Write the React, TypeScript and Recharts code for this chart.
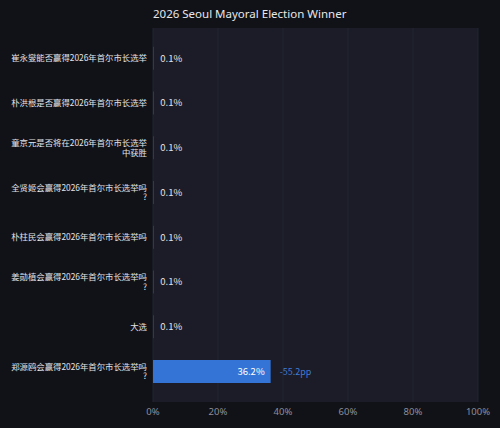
import React from "react";
import { BarChart, Bar, XAxis, YAxis, CartesianGrid, LabelList } from "recharts";

const categories = [
  "崔永燮能否赢得2026年首尔市长选举",
  "朴洪根是否赢得2026年首尔市长选举",
  "童京元是否将在2026年首尔市长选举中获胜",
  "全贤姬会赢得2026年首尔市长选举吗?",
  "朴柱民会赢得2026年首尔市长选举吗",
  "姜勋植会赢得2026年首尔市长选举吗?",
  "大选",
  "郑源鸥会赢得2026年首尔市长选举吗?",
];
const values = [0.1, 0.1, 0.1, 0.1, 0.1, 0.1, 0.1, 36.2];
const deltas: (string | null)[] = [null, null, null, null, null, null, null, "-55.2pp"];
const xTicks = [0, 20, 40, 60, 80, 100];

const data = categories.map((name, i) => ({ name, value: values[i], delta: deltas[i] }));

const CJK_FONT = "'Noto Sans CJK SC', 'Noto Sans', sans-serif";
const LABEL_SIZE = 8.4;

let ctx: CanvasRenderingContext2D | null = null;
function measure(t: string): number {
  if (!ctx) ctx = document.createElement("canvas").getContext("2d");
  if (!ctx) return t.length * LABEL_SIZE;
  ctx.font = `${LABEL_SIZE}px 'Noto Sans CJK SC'`;
  return ctx.measureText(t).width;
}
function wrap(text: string, maxW: number): string[] {
  const lines: string[] = [];
  let cur = "";
  for (const ch of Array.from(text)) {
    if (measure(cur + ch) > maxW && cur) {
      lines.push(cur);
      cur = ch;
    } else cur += ch;
  }
  if (cur) lines.push(cur);
  return lines;
}

const YTick = (props: any) => {
  const { x, y, payload } = props;
  const lines = wrap(payload.value, 137.5);
  const lh = 9.5;
  const start = y - ((lines.length - 1) * lh) / 2 + 3;
  return (
    <text x={x + 2} y={start} textAnchor="end" fill="#e2e3e8" fontSize={LABEL_SIZE} fontFamily={CJK_FONT}>
      {lines.map((l, i) => (
        <tspan key={i} x={x + 2} y={start + i * lh}>
          {l}
        </tspan>
      ))}
    </text>
  );
};

const ValueLabel = (props: any) => {
  const { x, y, width, height, value, index } = props;
  const cy = y + height / 2 + 3.3;
  const d = deltas[index];
  const big = value > 10;
  return (
    <g>
      {big ? (
        <text x={x + width - 6} y={cy} textAnchor="end" fill="#ffffff" fontSize={9.5} fontFamily={CJK_FONT}>
          {`${value.toFixed(1)}%`}
        </text>
      ) : (
        <text x={x + width + 7} y={cy} textAnchor="start" fill="#e2e3e8" fontSize={9.5} fontFamily={CJK_FONT}>
          {`${value.toFixed(1)}%`}
        </text>
      )}
      {d ? (
        <text x={x + width + 9} y={cy} textAnchor="start" fill="#3f7bd6" fontSize={9} fontFamily={CJK_FONT}>
          {d}
        </text>
      ) : null}
    </g>
  );
};

export default function App() {
  return (
    <div style={{ position: "fixed", left: 0, top: 0, width: 500, height: 428, background: "#111217", fontFamily: CJK_FONT }}>
      <div style={{ position: "absolute", left: 153, top: 6, fontSize: 11.5, color: "#e6e7ea", fontFamily: "'Noto Sans', sans-serif" }}>
        2026 Seoul Mayoral Election Winner
      </div>
      <BarChart
        width={500}
        height={428}
        data={data}
        layout="vertical"
        margin={{ top: 28, right: 22, bottom: 0, left: 0 }}
        barCategoryGap="24%"
      >
        <CartesianGrid horizontal={false} stroke="#232532" fill="#1b1c27" />
        <XAxis
          type="number"
          domain={[0, 100]}
          ticks={xTicks}
          tickFormatter={(v: number) => `${v}%`}
          axisLine={false}
          tickLine={false}
          tickMargin={0}
          height={26}
          tick={{ fill: "#8c8f9b", fontSize: 9.5, fontFamily: "'Noto Sans', sans-serif" }}
          interval={0}
        />
        <YAxis
          type="category"
          dataKey="name"
          width={153}
          axisLine={false}
          tickLine={false}
          padding={{ top: 8, bottom: 8 }}
          tick={<YTick />}
          interval={0}
        />
        <Bar dataKey="value" fill="#3474d6" isAnimationActive={false}>
          <LabelList dataKey="value" content={<ValueLabel />} />
        </Bar>
      </BarChart>
    </div>
  );
}
